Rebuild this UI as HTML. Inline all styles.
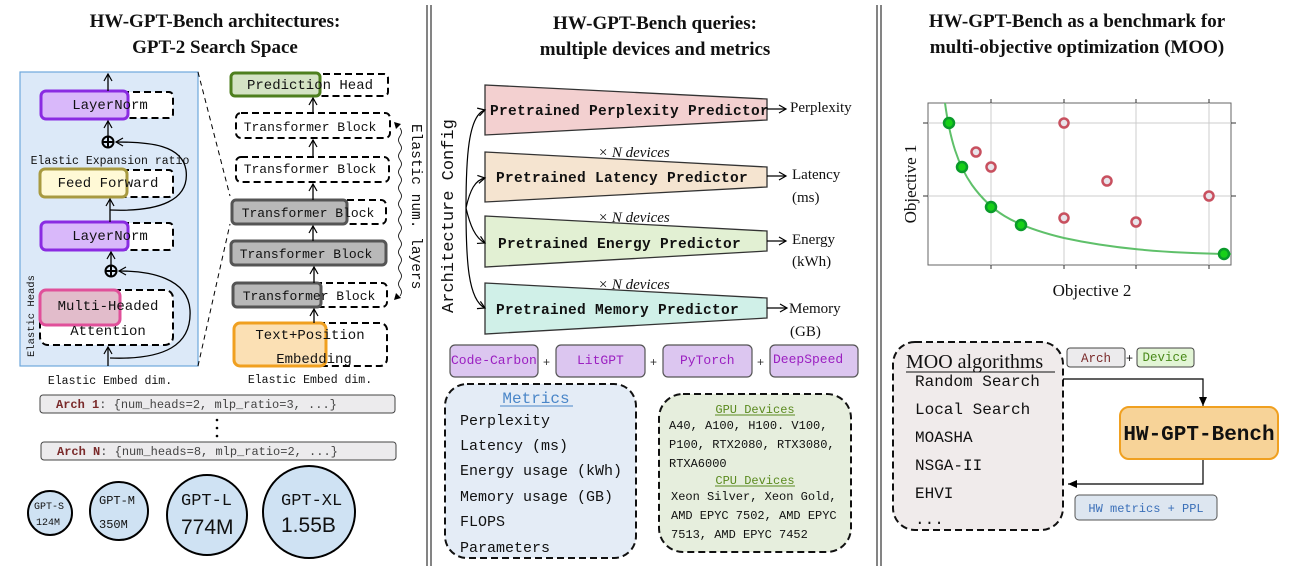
<!DOCTYPE html>
<html><head><meta charset="utf-8"><style>
html,body{margin:0;padding:0;background:#fff;}
svg{display:block;}
.ser{font-family:"Liberation Serif",serif;}
.mono{font-family:"Liberation Mono",monospace;}
.sans{font-family:"Liberation Sans",sans-serif;}
</style></head><body>
<svg width="1292" height="570" viewBox="0 0 1292 570" xmlns="http://www.w3.org/2000/svg">
<defs>
<marker id="ah" markerWidth="10" markerHeight="10" refX="8" refY="5" orient="auto" markerUnits="userSpaceOnUse"><path d="M1,1 L8,5 L1,9" fill="none" stroke="#000" stroke-width="1.2"/></marker>
<marker id="tri" markerWidth="10" markerHeight="10" refX="9" refY="5" orient="auto" markerUnits="userSpaceOnUse"><path d="M0,1 L9,5 L0,9 Z" fill="#000"/></marker>
</defs>
<g stroke="#333" stroke-width="1.2">
<line x1="427" y1="5" x2="427" y2="566"/><line x1="431" y1="5" x2="431" y2="566"/>
<line x1="877" y1="5" x2="877" y2="566"/><line x1="881" y1="5" x2="881" y2="566"/>
</g>
<g class="ser" font-weight="bold" font-size="19" fill="#111" text-anchor="middle">
<text x="215" y="27">HW-GPT-Bench architectures:</text>
<text x="215" y="53">GPT-2 Search Space</text>
<text x="655" y="29">HW-GPT-Bench queries:</text>
<text x="655" y="55">multiple devices and metrics</text>
<text x="1077" y="27">HW-GPT-Bench as a benchmark for</text>
<text x="1077" y="53">multi-objective optimization (MOO)</text>
</g>

<rect x="20" y="72" width="178" height="294" fill="#dce9f8" stroke="#6fa8dc" stroke-width="1.2"/>
<g fill="none" stroke="#000" stroke-width="1" stroke-dasharray="5,4">
<line x1="198" y1="72" x2="230" y2="196"/><line x1="198" y1="366" x2="230" y2="224"/>
</g>
<g fill="#fff" stroke="#000" stroke-width="2" stroke-dasharray="7,4">
<rect x="41" y="92" width="132" height="26" rx="4"/>
<rect x="41" y="170" width="132" height="27" rx="4"/>
<rect x="41" y="223" width="132" height="27" rx="4"/>
<rect x="40" y="290" width="133" height="55" rx="8"/>
</g>
<rect x="41" y="91" width="87" height="28" rx="5" fill="#d9b8fa" stroke="#8a2be2" stroke-width="3"/>
<rect x="40" y="169" width="87" height="28" rx="5" fill="#fff9d6" stroke="#a89a40" stroke-width="3"/>
<rect x="41" y="222" width="87" height="28" rx="5" fill="#d9b8fa" stroke="#8a2be2" stroke-width="3"/>
<rect x="40" y="290" width="80" height="35" rx="6" fill="#e2bccb" stroke="#e0509a" stroke-width="3"/>
<g class="mono" font-size="14" fill="#111" text-anchor="middle">
<text x="110" y="109">LayerNorm</text>
<text x="108" y="187">Feed Forward</text>
<text x="110" y="240">LayerNorm</text>
<text x="108" y="310">Multi-Headed</text>
<text x="108" y="335">Attention</text>
</g>
<text x="110" y="164" class="mono" font-size="11.5" fill="#111" text-anchor="middle">Elastic Expansion ratio</text>
<text class="mono" font-size="10.5" fill="#111" transform="translate(34,357) rotate(-90)">Elastic Heads</text>
<g stroke="#000" stroke-width="1.3" fill="none">
<circle cx="108" cy="142" r="5.5" stroke-width="2"/><line x1="102.5" y1="142" x2="113.5" y2="142" stroke-width="2"/><line x1="108" y1="136.5" x2="108" y2="147.5" stroke-width="2"/>
<circle cx="111" cy="271" r="5.5" stroke-width="2"/><line x1="105.5" y1="271" x2="116.5" y2="271" stroke-width="2"/><line x1="111" y1="265.5" x2="111" y2="276.5" stroke-width="2"/>
<line x1="108" y1="91" x2="108" y2="74" marker-end="url(#ah)"/>
<line x1="108" y1="136" x2="108" y2="121" marker-end="url(#ah)"/>
<line x1="110" y1="222" x2="110" y2="199" marker-end="url(#ah)"/>
<line x1="111" y1="265" x2="111" y2="252" marker-end="url(#ah)"/>
<line x1="108" y1="366" x2="108" y2="347" marker-end="url(#ah)"/>
<path d="M110,210 C160,212 190,200 186,170 C182,145 150,142 116,142" marker-end="url(#ah)"/>
<path d="M110,358 C165,360 192,345 190,310 C188,278 150,271 119,271" marker-end="url(#ah)"/>
</g>
<text x="110" y="384" class="mono" font-size="11.5" fill="#111" text-anchor="middle">Elastic Embed dim.</text>

<g fill="#fff" stroke="#000" stroke-width="2" stroke-dasharray="7,4">
<rect x="231" y="74" width="157" height="22" rx="4"/>
<rect x="236" y="113" width="154" height="25" rx="5"/>
<rect x="236" y="157" width="153" height="25" rx="5"/>
<rect x="232" y="200" width="154" height="24" rx="5"/>
<rect x="233" y="283" width="154" height="24" rx="5"/>
<rect x="234" y="323" width="153" height="43" rx="7"/>
</g>
<rect x="231" y="73" width="89" height="23" rx="4" fill="#d4e3c4" stroke="#4e7f1e" stroke-width="3"/>
<rect x="232" y="200" width="115" height="24" rx="4" fill="#b8b8b8" stroke="#555" stroke-width="3"/>
<rect x="231" y="241" width="155" height="24" rx="4" fill="#b8b8b8" stroke="#555" stroke-width="3"/>
<rect x="233" y="283" width="88" height="24" rx="4" fill="#b8b8b8" stroke="#555" stroke-width="3"/>
<rect x="234" y="323" width="92" height="43" rx="6" fill="#fbe0b4" stroke="#f0a020" stroke-width="3"/>
<g class="mono" fill="#111" text-anchor="middle">
<text x="310" y="89" font-size="14">Prediction Head</text>
<text x="310" y="131" font-size="13">Transformer Block</text>
<text x="310" y="173" font-size="13">Transformer Block</text>
<text x="308" y="217" font-size="13">Transformer Block</text>
<text x="306" y="258" font-size="13">Transformer Block</text>
<text x="309" y="300" font-size="13">Transformer Block</text>
<text x="310" y="339" font-size="14">Text+Position</text>
<text x="314" y="363" font-size="14">Embedding</text>
</g>
<g stroke="#000" stroke-width="1.3" fill="none">
<line x1="313" y1="113" x2="313" y2="98" marker-end="url(#ah)"/>
<line x1="313" y1="157" x2="313" y2="140" marker-end="url(#ah)"/>
<line x1="313" y1="200" x2="313" y2="184" marker-end="url(#ah)"/>
<line x1="313" y1="241" x2="313" y2="226" marker-end="url(#ah)"/>
<line x1="314" y1="283" x2="314" y2="267" marker-end="url(#ah)"/>
<line x1="314" y1="323" x2="314" y2="309" marker-end="url(#ah)"/>
<path d="M392,128 q3,4 0,8 q-3,4 0,8 q3,4 0,8 q-3,4 0,8 q3,4 0,8 q-3,4 0,8 q3,4 0,8 q-3,4 0,8 q3,4 0,8 q-3,4 0,8 q3,4 0,8 q-3,4 0,8 q3,4 0,8 q-3,4 0,8 q3,4 0,8 q-3,4 0,8 q3,4 0,8 q-3,4 0,8 q3,4 0,8 q-3,4 0,8 q3,4 0,8" stroke-width="0.8" transform="translate(8,0)"/>
</g>
<path d="M394,122 l7,2 l-5,5 z" fill="#000"/>
<path d="M394,300 l7,-2 l-5,-5 z" fill="#000"/>
<text class="mono" font-size="14.5" fill="#111" transform="translate(412,124) rotate(90)">Elastic num. layers</text>
<text x="310" y="383" class="mono" font-size="11.5" fill="#111" text-anchor="middle">Elastic Embed dim.</text>

<rect x="40" y="395" width="355" height="18" rx="3" fill="#ecebed" stroke="#444" stroke-width="1"/>
<rect x="41" y="442" width="355" height="18" rx="3" fill="#ecebed" stroke="#444" stroke-width="1"/>
<g class="mono" font-size="12">
<text x="56" y="408"><tspan fill="#7a2a2a" font-weight="bold">Arch 1</tspan><tspan fill="#444">: {num_heads=2, mlp_ratio=3, ...}</tspan></text>
<text x="57" y="455"><tspan fill="#7a2a2a" font-weight="bold">Arch N</tspan><tspan fill="#444">: {num_heads=8, mlp_ratio=2, ...}</tspan></text>
</g>
<g fill="#000"><circle cx="217" cy="420" r="1.3"/><circle cx="217" cy="428" r="1.3"/><circle cx="217" cy="436" r="1.3"/></g>
<g fill="#cfe2f3" stroke="#000" stroke-width="2">
<circle cx="50" cy="513" r="22"/><circle cx="119" cy="511" r="29"/><circle cx="207" cy="515" r="40"/><circle cx="309" cy="512" r="46"/>
</g>
<g class="mono" fill="#111">
<text x="34" y="509" font-size="10">GPT-S</text><text x="36" y="525" font-size="10">124M</text>
<text x="99" y="504" font-size="12">GPT-M</text><text x="99" y="528" font-size="12">350M</text>
<text x="181" y="505" font-size="17">GPT-L</text>
<text x="281" y="505" font-size="17">GPT-XL</text>
</g>
<text x="181" y="534" class="sans" font-size="21" fill="#111">774M</text>
<text x="281" y="532" class="sans" font-size="21" fill="#111">1.55B</text>

<text class="mono" font-size="17" fill="#111" transform="translate(453,313) rotate(-90)">Architecture Config</text>
<g stroke="#333" stroke-width="1.3">
<polygon points="485,85 767,99 767,120 485,135" fill="#f3d0d0"/>
<polygon points="485,152 767,167 767,187 485,202" fill="#f5e4d0"/>
<polygon points="485,216 767,231 767,251 485,267" fill="#e2f0d3"/>
<polygon points="485,283 767,298 767,318 485,334" fill="#d0f0e8"/>
</g>
<g class="mono" font-size="14.5" font-weight="bold" fill="#111" letter-spacing="0.3">
<text x="490" y="115">Pretrained Perplexity Predictor</text>
<text x="496" y="182">Pretrained Latency Predictor</text>
<text x="498" y="248">Pretrained Energy Predictor</text>
<text x="496" y="314">Pretrained Memory Predictor</text>
</g>
<g stroke="#000" stroke-width="1.2" fill="none">
<line x1="767" y1="109" x2="786" y2="109" marker-end="url(#ah)"/>
<line x1="767" y1="176" x2="786" y2="176" marker-end="url(#ah)"/>
<line x1="767" y1="241" x2="786" y2="241" marker-end="url(#ah)"/>
<line x1="767" y1="308" x2="787" y2="308" marker-end="url(#ah)"/>
<path d="M466,208 C466,160 468,115 485,110" marker-end="url(#ah)"/>
<path d="M466,208 C470,190 475,180 485,178" marker-end="url(#ah)"/>
<path d="M466,208 C470,225 475,238 485,243" marker-end="url(#ah)"/>
<path d="M466,208 C466,260 468,300 485,308" marker-end="url(#ah)"/>
</g>
<g class="ser" font-size="15" fill="#111">
<text x="790" y="112">Perplexity</text>
<text x="792" y="179">Latency</text><text x="792" y="202">(ms)</text>
<text x="792" y="244">Energy</text><text x="792" y="266">(kWh)</text>
<text x="789" y="313">Memory</text><text x="790" y="336">(GB)</text>
<text x="598" y="157" font-style="italic">× N devices</text>
<text x="598" y="222" font-style="italic">× N devices</text>
<text x="598" y="289" font-style="italic">× N devices</text>
</g>
<g fill="#dcc6f0" stroke="#555" stroke-width="1.2">
<rect x="450" y="345" width="88" height="32" rx="5"/>
<rect x="556" y="345" width="89" height="32" rx="5"/>
<rect x="663" y="345" width="89" height="32" rx="5"/>
<rect x="770" y="345" width="88" height="32" rx="5"/>
</g>
<g class="mono" font-size="13" fill="#9b1fc1">
<text x="451" y="364">Code-Carbon</text>
<text x="577" y="364">LitGPT</text>
<text x="680" y="364">PyTorch</text>
<text x="773" y="363">DeepSpeed</text>
</g>
<g class="sans" font-size="12" fill="#333"><text x="543" y="366">+</text><text x="650" y="366">+</text><text x="757" y="366">+</text></g>
<rect x="445" y="384" width="191" height="174" rx="22" fill="#e4ecf6" stroke="#111" stroke-width="2" stroke-dasharray="7,4"/>
<text x="536" y="403" class="mono" font-size="16" fill="#4a86c8" text-anchor="middle">Metrics</text>
<line x1="500" y1="406" x2="573" y2="406" stroke="#4a86c8" stroke-width="1"/>
<g class="mono" font-size="15" fill="#111">
<text x="460" y="425">Perplexity</text>
<text x="460" y="450">Latency (ms)</text>
<text x="460" y="475">Energy usage (kWh)</text>
<text x="460" y="501">Memory usage (GB)</text>
<text x="460" y="526">FLOPS</text>
<text x="460" y="552">Parameters</text>
</g>
<rect x="659" y="394" width="192" height="158" rx="24" fill="#e6eedd" stroke="#111" stroke-width="2" stroke-dasharray="7,4"/>
<g class="mono" font-size="12" fill="#5a8a1e" text-anchor="middle">
<text x="755" y="413">GPU Devices</text><text x="755" y="484">CPU Devices</text>
</g>
<g stroke="#5a8a1e" stroke-width="1"><line x1="715" y1="415" x2="795" y2="415"/><line x1="715" y1="486" x2="795" y2="486"/></g>
<g class="mono" font-size="12" fill="#111">
<text x="669" y="429">A40, A100, H100. V100,</text>
<text x="669" y="448">P100, RTX2080, RTX3080,</text>
<text x="669" y="467">RTXA6000</text>
<text x="671" y="500">Xeon Silver, Xeon Gold,</text>
<text x="671" y="519">AMD EPYC 7502, AMD EPYC</text>
<text x="671" y="538">7513, AMD EPYC 7452</text>
</g>

<rect x="928" y="103" width="303" height="162" fill="#fff" stroke="#666" stroke-width="1"/>
<g stroke="#ccc" stroke-width="1">
<line x1="991" y1="103" x2="991" y2="265"/><line x1="1064" y1="103" x2="1064" y2="265"/>
<line x1="1136" y1="103" x2="1136" y2="265"/><line x1="1209" y1="103" x2="1209" y2="265"/>
<line x1="928" y1="123" x2="1231" y2="123"/><line x1="928" y1="196" x2="1231" y2="196"/>
</g>
<g stroke="#333" stroke-width="1">
<line x1="991" y1="99" x2="991" y2="103"/><line x1="1064" y1="99" x2="1064" y2="103"/><line x1="1136" y1="99" x2="1136" y2="103"/><line x1="1209" y1="99" x2="1209" y2="103"/>
<line x1="991" y1="265" x2="991" y2="269"/><line x1="1064" y1="265" x2="1064" y2="269"/><line x1="1136" y1="265" x2="1136" y2="269"/><line x1="1209" y1="265" x2="1209" y2="269"/>
<line x1="923" y1="123" x2="928" y2="123"/><line x1="923" y1="196" x2="928" y2="196"/>
<line x1="1231" y1="123" x2="1236" y2="123"/><line x1="1231" y1="196" x2="1236" y2="196"/>
</g>
<path d="M945,103 C950,140 958,165 972,185 C990,210 1010,225 1064,238 C1110,248 1160,253 1231,254" fill="none" stroke="#5fc06a" stroke-width="2"/>
<g fill="#e8e4ea" stroke="#c8505f" stroke-width="2.5">
<circle cx="976" cy="152" r="4.5"/><circle cx="991" cy="167" r="4.5"/><circle cx="1064" cy="123" r="4.5"/>
<circle cx="1107" cy="181" r="4.5"/><circle cx="1064" cy="218" r="4.5"/><circle cx="1136" cy="222" r="4.5"/><circle cx="1209" cy="196" r="4.5"/>
</g>
<g fill="#18d018" stroke="#0a9a2a" stroke-width="2.5">
<circle cx="949" cy="123" r="5"/><circle cx="962" cy="167" r="5"/><circle cx="991" cy="207" r="5"/><circle cx="1021" cy="225" r="5"/><circle cx="1224" cy="254" r="5"/>
</g>
<text x="1092" y="296" class="ser" font-size="17" fill="#111" text-anchor="middle">Objective 2</text>
<text class="ser" font-size="17" fill="#111" text-anchor="middle" transform="translate(916,184) rotate(-90)">Objective 1</text>

<rect x="893" y="342" width="170" height="188" rx="22" fill="#f0ebeb" stroke="#111" stroke-width="2" stroke-dasharray="7,4"/>
<text x="906" y="368" class="ser" font-size="20" fill="#111">MOO algorithms</text>
<line x1="906" y1="372" x2="1055" y2="372" stroke="#111" stroke-width="1"/>
<g class="mono" font-size="16" fill="#111">
<text x="915" y="386">Random Search</text>
<text x="915" y="414">Local Search</text>
<text x="915" y="442">MOASHA</text>
<text x="915" y="470">NSGA-II</text>
<text x="915" y="498">EHVI</text>
<text x="915" y="524">...</text>
</g>
<rect x="1067" y="348" width="58" height="19" rx="3" fill="#ecebed" stroke="#444" stroke-width="1"/>
<text x="1096" y="362" class="mono" font-size="12.5" fill="#7a2a2a" text-anchor="middle">Arch</text>
<text x="1126" y="362" class="sans" font-size="12" fill="#111">+</text>
<rect x="1137" y="348" width="57" height="19" rx="3" fill="#e2f5d5" stroke="#444" stroke-width="1"/>
<text x="1165" y="361" class="mono" font-size="12.5" fill="#4a8a1a" text-anchor="middle">Device</text>
<g stroke="#000" stroke-width="1.2" fill="none">
<polyline points="1063,379 1203,379 1203,406" marker-end="url(#tri)"/>
<polyline points="1203,460 1203,484 1068,484" marker-end="url(#tri)"/>
</g>
<rect x="1120" y="407" width="158" height="52" rx="9" fill="#f7d398" stroke="#f0a020" stroke-width="2"/>
<text x="1199" y="440" class="mono" font-size="21" font-weight="bold" fill="#111" text-anchor="middle">HW-GPT-Bench</text>
<rect x="1075" y="495" width="142" height="25" rx="4" fill="#dde6f0" stroke="#555" stroke-width="1"/>
<text x="1146" y="512" class="mono" font-size="12" fill="#3a6fb8" text-anchor="middle">HW metrics + PPL</text>
</svg>
</body></html>
